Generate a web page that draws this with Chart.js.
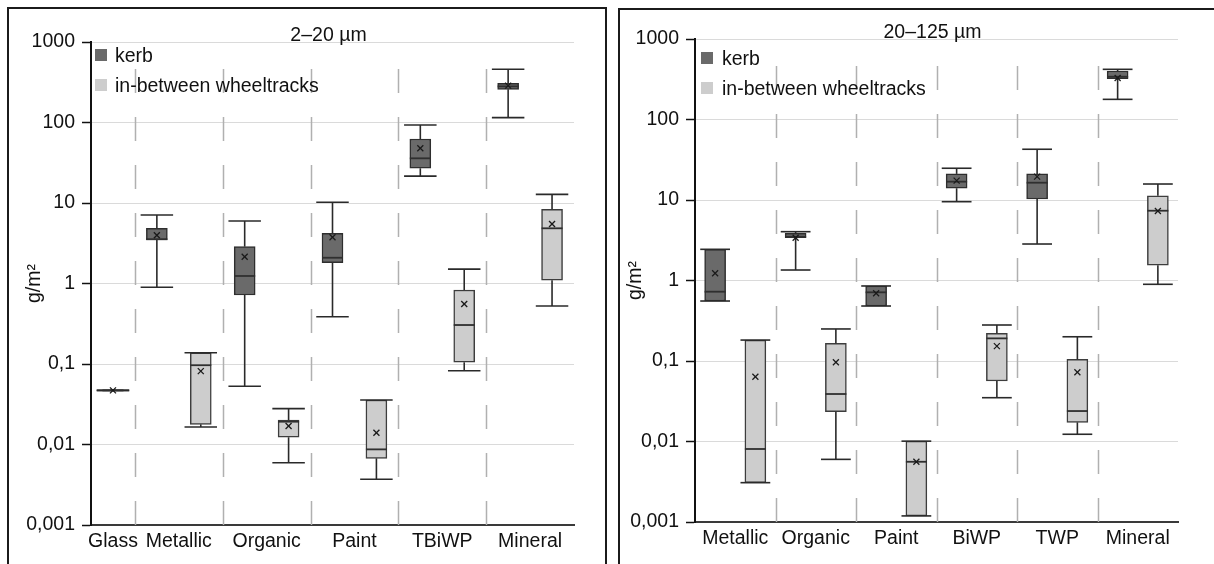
<!DOCTYPE html>
<html>
<head>
<meta charset="utf-8">
<script src="https://cdn.jsdelivr.net/npm/chart.js@4.4.1/dist/chart.umd.min.js"></script>
<style>
  html, body { margin: 0; padding: 0; background: #fff; overflow: hidden; }
  body { width: 1214px; height: 564px; position: relative; }
  .frame { position: absolute; border: 2px solid #1b1b1b; box-sizing: border-box; }
  #frameFine { left: 7px; top: 7px; width: 600px; height: 620px; }
  #frameCoarse { left: 618px; top: 8px; width: 620px; height: 620px; }
  canvas { position: absolute; top: 0; }
  #fine { left: 0; }
  #coarse { left: 610px; }
</style>
</head>
<body>
<div class="frame" id="frameFine"></div>
<div class="frame" id="frameCoarse"></div>
<canvas id="fine" width="610" height="564"></canvas>
<canvas id="coarse" width="604" height="564"></canvas>
<script>
const yTickValues = [0.001, 0.01, 0.1, 1, 10, 100, 1000];
const yTickLabels = ['0,001', '0,01', '0,1', '1', '10', '100', '1000'];
const seriesNames = ['kerb', 'in-between wheeltracks'];

// each entry: [min, q1, median, q3, max, mean] in g/m², null = no samples
const fineCategories = ['Glass', 'Metallic', 'Organic', 'Paint', 'TBiWP', 'Mineral'];
const fineKerb = [
  null,
  [0.90, 3.47, 3.55, 4.85, 7.1, 3.98],
  [0.053, 0.72, 1.24, 2.87, 5.98, 2.15],
  [0.387, 1.82, 2.09, 4.2, 10.2, 3.75],
  [21.6, 27, 35.9, 62.4, 93, 47.8],
  [115, 258, 281, 307, 458, 287]
];
const fineBetween = [
  [0.047, 0.047, 0.047, 0.047, 0.047, 0.047],
  [0.0165, 0.0178, 0.0966, 0.138, 0.138, 0.0815],
  [0.00594, 0.0123, 0.0192, 0.0201, 0.0279, 0.0170],
  [0.0037, 0.00673, 0.0087, 0.0357, 0.0357, 0.0140],
  [0.0826, 0.105, 0.305, 0.83, 1.51, 0.556],
  [0.525, 1.10, 4.85, 8.34, 12.8, 5.49]
];

const coarseCategories = ['Metallic', 'Organic', 'Paint', 'BiWP', 'TWP', 'Mineral'];
const coarseKerb = [
  [0.556, 0.556, 0.726, 2.44, 2.44, 1.23],
  [1.35, 3.40, 3.50, 3.85, 4.04, 3.40],
  [0.482, 0.482, 0.713, 0.855, 0.855, 0.693],
  [9.53, 14.0, 16.9, 21.1, 24.8, 17.4],
  [2.84, 10.3, 16.4, 21.1, 42.7, 19.5],
  [178, 321, 340, 400, 420, 328]
];
const coarseBetween = [
  [0.00308, 0.00308, 0.00807, 0.182, 0.182, 0.0638],
  [0.0060, 0.0234, 0.0389, 0.166, 0.250, 0.0964],
  [0.00119, 0.00119, 0.0056, 0.0101, 0.0101, 0.0056],
  [0.035, 0.0565, 0.191, 0.221, 0.280, 0.153],
  [0.0123, 0.0173, 0.0239, 0.105, 0.200, 0.0724],
  [0.897, 1.55, 7.36, 11.3, 15.8, 7.3]
];

const FONT = "'Liberation Sans', Arial, sans-serif";
const FONT_SIZE = 19.5;
const KERB_FILL = '#6a6a6a', KERB_LINE = '#2e2e2e';
const BETWEEN_FILL = '#cdcdcd', BETWEEN_LINE = '#3d3d3d';
const BOX_WIDTH = 21;

// one x slot per series that has values, categories sit between their slots
function layoutSlots(categories, kerb, between) {
  const kerbPts = [], betweenPts = [], centers = [], dividers = [];
  let slot = 0;
  categories.forEach((c, i) => {
    const first = slot;
    if (kerb[i]) { kerbPts.push({ x: slot, y: [kerb[i][1], kerb[i][3]], stats: kerb[i] }); slot++; }
    if (between[i]) { betweenPts.push({ x: slot, y: [between[i][1], between[i][3]], stats: between[i] }); slot++; }
    centers.push((first + slot - 1) / 2);
    if (i > 0) dividers.push(first - 0.5);
  });
  return { kerbPts, betweenPts, centers, dividers, slots: slot };
}

function line(ctx, x1, y1, x2, y2) {
  ctx.beginPath();
  ctx.moveTo(x1, y1);
  ctx.lineTo(x2, y2);
  ctx.stroke();
}

const boxWhiskers = {
  id: 'boxWhiskers',
  beforeDatasetsDraw(chart, args, opts) {
    const { ctx, chartArea: a, scales: { x } } = chart;
    ctx.save();
    ctx.strokeStyle = '#b0b0b0';
    ctx.lineWidth = 1.5;
    ctx.setLineDash([24, 24]);
    opts.dividers.forEach(d => {
      const px = Math.round(x.getPixelForValue(d)) + 0.5;
      line(ctx, px, a.bottom, px, a.top + opts.dashTop);
    });
    ctx.restore();
  },
  afterDatasetsDraw(chart, args, opts) {
    const { ctx, chartArea: a, scales: { x, y } } = chart;
    const capHalf = (x.getPixelForValue(1) - x.getPixelForValue(0)) * 0.37;
    ctx.save();
    chart.data.datasets.forEach(ds => {
      ds.data.forEach(p => {
        const [min, q1, med, q3, max, mean] = p.stats.map(v => y.getPixelForValue(v));
        const cx = x.getPixelForValue(p.x);
        ctx.strokeStyle = '#2a2a2a';
        ctx.lineWidth = 1.6;
        line(ctx, cx, q3, cx, max);
        line(ctx, cx, q1, cx, min);
        line(ctx, cx - capHalf, max, cx + capHalf, max);
        line(ctx, cx - capHalf, min, cx + capHalf, min);
        ctx.strokeStyle = '#2f2f2f';
        ctx.lineWidth = 1.8;
        line(ctx, cx - BOX_WIDTH / 2, med, cx + BOX_WIDTH / 2, med);
        // mean marker
        ctx.strokeStyle = '#1a1a1a';
        ctx.lineWidth = 1.3;
        const m = 3;
        line(ctx, cx - m, mean - m, cx + m, mean + m);
        line(ctx, cx - m, mean + m, cx + m, mean - m);
      });
    });

    ctx.fillStyle = '#111';
    ctx.font = FONT_SIZE + 'px ' + FONT;
    ctx.textAlign = 'center';
    ctx.textBaseline = 'alphabetic';
    ctx.fillText(opts.title, (a.left + a.right) / 2 - 4, a.top - 1);

    // legend in the upper left of the plot
    ctx.textAlign = 'left';
    chart.data.datasets.forEach((ds, i) => {
      const top = a.top + opts.legendTop + i * 30;
      ctx.fillStyle = ds.backgroundColor;
      ctx.fillRect(a.left + opts.legendLeft, top, 12, 12);
      ctx.fillStyle = '#111';
      ctx.fillText(ds.label, a.left + opts.legendText, top + 13);
    });
    ctx.restore();
  }
};

function drawPanel(id, title, categories, kerb, between, frame) {
  const L = layoutSlots(categories, kerb, between);
  const tickFont = { family: FONT, size: FONT_SIZE };
  return new Chart(document.getElementById(id), {
    type: 'bar',
    data: {
      datasets: [
        { label: seriesNames[0], data: L.kerbPts, backgroundColor: KERB_FILL, borderColor: KERB_LINE,
          borderWidth: 1.5, borderSkipped: false, barThickness: BOX_WIDTH, grouped: false },
        { label: seriesNames[1], data: L.betweenPts, backgroundColor: BETWEEN_FILL, borderColor: BETWEEN_LINE,
          borderWidth: 1.5, borderSkipped: false, barThickness: BOX_WIDTH, grouped: false }
      ]
    },
    options: {
      responsive: false,
      animation: false,
      layout: { padding: { top: frame.top, right: frame.right, left: 0, bottom: 0 } },
      plugins: {
        legend: { display: false },
        tooltip: { enabled: false },
        boxWhiskers: { title, dividers: L.dividers, dashTop: frame.dashTop,
          legendTop: frame.legendTop, legendLeft: frame.legendLeft, legendText: frame.legendText }
      },
      scales: {
        x: {
          type: 'linear', min: -0.5, max: L.slots - 0.5, offset: false,
          grid: { display: false, drawTicks: false },
          border: { color: '#3a3a3a', width: 2 },
          ticks: { autoSkip: false, maxRotation: 0, padding: 5, color: '#111', font: tickFont,
            callback: (v, i) => categories[i] },
          afterBuildTicks: s => { s.ticks = L.centers.map(v => ({ value: v })); },
          afterFit: s => { s.height = frame.xHeight; }
        },
        y: {
          type: 'logarithmic', min: 0.001, max: 1000,
          grid: { color: '#dadada', lineWidth: 1, tickColor: '#111', tickLength: 9, tickWidth: 1.5 },
          border: { color: '#111', width: 2 },
          ticks: { padding: 7, color: '#111', font: tickFont, callback: (v, i) => yTickLabels[i] },
          afterBuildTicks: s => { s.ticks = yTickValues.map(v => ({ value: v })); },
          afterFit: s => { s.width = frame.yWidth; },
          title: { display: true, text: 'g/m²', color: '#111', font: tickFont,
            padding: { top: frame.titlePad, bottom: 0 } }
        }
      }
    },
    plugins: [boxWhiskers]
  });
}

drawPanel('fine', '2–20 µm', fineCategories, fineKerb, fineBetween,
  { top: 42, right: 36, yWidth: 91, xHeight: 39, titlePad: 23, dashTop: 26, legendTop: 7, legendLeft: 4, legendText: 24 });
drawPanel('coarse', '20–125 µm', coarseCategories, coarseKerb, coarseBetween,
  { top: 39, right: 36, yWidth: 85, xHeight: 42, titlePad: 13.7, dashTop: 24, legendTop: 13, legendLeft: 6, legendText: 27 });
</script>
</body>
</html>
